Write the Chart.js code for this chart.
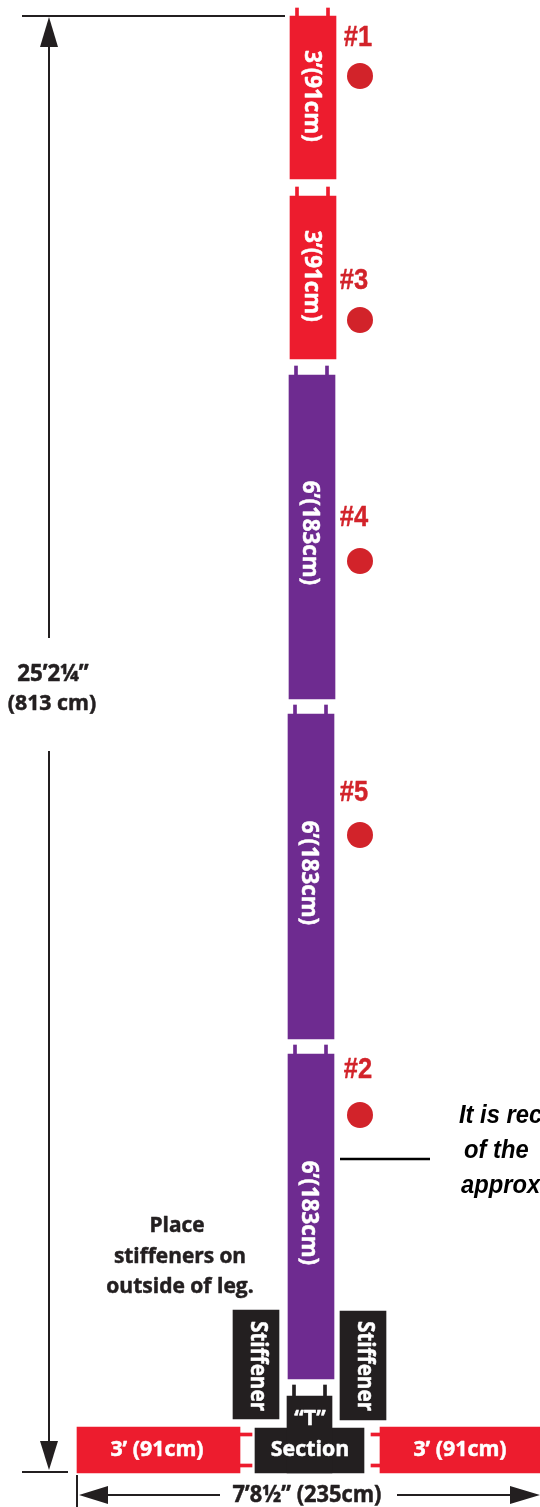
<!DOCTYPE html>
<html><head><meta charset="utf-8">
<style>html,body{margin:0;padding:0;background:#fff;overflow:hidden}canvas{display:block}</style>
<script src="https://cdn.jsdelivr.net/npm/chart.js@4"></script>
</head><body><canvas id="c" width="540" height="1507"></canvas>
<script>
// Sections of the leg: centre along x, start and end along y (diagram units)
const redLegCentres=[313,313];
const redLegTops=[16,196];
const redLegBottoms=[179,359];
const purpleLegCentres=[312,311,311];
const purpleLegTops=[375,714,1054];
const purpleLegBottoms=[699,1039,1379];
const stiffenerCentres=[256,363];
const stiffenerTops=[1310,1311];
const stiffenerBottoms=[1419,1420];
const markerNames=['#1','#3','#4','#5','#2'];
const markerX=[360,360,360,360,360];
const markerY=[76,320,561,835,1115];
const markerLabelX=[358,354,354,354,358];
const markerLabelY=[38,281,518,793,1070];
const redTabX=[297,328,297,328];
const redTabTop=[8,8,187,187];
const purpleTabX=[296,327,295,326,295,326];
const purpleTabTop=[366,366,705,705,1045,1045];

const RED='#ed1c2e',PURPLE='#6e2b90',BLACK='#231f20',DOT='#d2232a';
const zip=(xs,a,b)=>xs.map((x,i)=>({x,y:[a[i],b[i]]}));
const bar=(data,color,w)=>({type:'bar',data,backgroundColor:color,barThickness:w,grouped:false,borderWidth:0,order:2});
const line=(data,w=2,color=BLACK)=>({type:'scatter',data,showLine:true,borderColor:color,borderWidth:w,pointRadius:0,fill:false,order:1});
const tri=(data)=>({type:'scatter',data,showLine:true,borderColor:BLACK,borderWidth:0,backgroundColor:BLACK,pointRadius:0,fill:'shape',order:1});
const P=(x,y)=>({x,y});

const texts=[
 {t:'3’(91cm)',x:312,y:96,r:90,s:23,c:'#fff'},
 {t:'3’(91cm)',x:312,y:276,r:90,s:23,c:'#fff'},
 {t:'6’(183cm)',x:310,y:533,r:90,s:23,c:'#fff'},
 {t:'6’(183cm)',x:309,y:873,r:90,s:23,c:'#fff'},
 {t:'6’(183cm)',x:309,y:1213,r:90,s:23,c:'#fff'},
 {t:'Stiffener',x:258,y:1366,r:90,s:23,c:'#fff',sx:0.9},
 {t:'Stiffener',x:365,y:1366,r:90,s:23,c:'#fff',sx:0.9},
 {t:'“T”',x:310,y:1419,s:22,c:'#fff'},
 {t:'Section',x:310,y:1450,s:22,c:'#fff'},
 {t:'3’ (91cm)',x:157,y:1450,s:22,c:'#fff'},
 {t:'3’ (91cm)',x:460,y:1450,s:22,c:'#fff'},
 {t:'7’8½” (235cm)',x:307,y:1496,s:22.5,c:BLACK},
 {t:'25’2¼”',x:53,y:674,s:23,c:BLACK},
 {t:'(813 cm)',x:52,y:704,s:22,c:BLACK},
 {t:'Place',x:177,y:1226,s:21.5,c:BLACK},
 {t:'stiffeners on',x:180,y:1257,s:21.5,c:BLACK},
 {t:'outside of leg.',x:180,y:1287,s:21.7,c:BLACK},
];
const notes=[
 {t:'It is rec',x:459,y:1116},
 {t:'of the',x:464,y:1151},
 {t:'approx',x:461,y:1186},
];

const labelPlugin={id:'labels',afterDatasetsDraw(ch){
 const {ctx,scales:{x,y}}=ch;
 const draw=(t,px,py,font,color,align,rot,sx,sw)=>{
  ctx.save();ctx.translate(x.getPixelForValue(px),y.getPixelForValue(py));
  if(rot)ctx.rotate(rot*Math.PI/180);
  if(sx)ctx.scale(sx,1);
  ctx.font=font;ctx.fillStyle=color;ctx.textAlign=align;ctx.textBaseline='middle';
  ctx.fillText(t,0,0);
  if(sw){ctx.strokeStyle=color;ctx.lineWidth=sw;ctx.lineJoin='round';ctx.strokeText(t,0,0);}
  ctx.restore();
 };
 texts.forEach(o=>draw(o.t,o.x,o.y,`bold ${o.s}px "Open Sans"`,o.c,'center',o.r||0,o.sx||0.97,0.5));
 markerNames.forEach((m,i)=>draw(m,markerLabelX[i],markerLabelY[i],'bold 29px "Liberation Sans"',DOT,'center',0,0.88,0.4));
 notes.forEach(o=>draw(o.t,o.x,o.y,'italic bold 25px "Liberation Sans"','#000','left',0,0.95,0));
}};

new Chart(document.getElementById('c'),{
 data:{datasets:[
  bar(zip(redLegCentres,redLegTops,redLegBottoms),RED,46),
  bar(zip(purpleLegCentres,purpleLegTops,purpleLegBottoms),PURPLE,46),
  bar(zip(stiffenerCentres,stiffenerTops,stiffenerBottoms),BLACK,46),
  bar([{x:309.5,y:[1396,1473]}],BLACK,45),
  bar([{x:309.5,y:[1428,1473]}],BLACK,109),
  bar([{x:158.5,y:[1427,1473]}],RED,163),
  bar([{x:460,y:[1427,1473]}],RED,160),
  bar(redTabX.map((x,i)=>({x,y:[redTabTop[i],redTabTop[i]+9]})),RED,3),
  bar(purpleTabX.map((x,i)=>({x,y:[purpleTabTop[i],purpleTabTop[i]+9]})),PURPLE,3),
  bar([{x:294,y:[1385,1397]},{x:325,y:[1385,1397]}],BLACK,3),
  bar([{x:246,y:[1433,1436]},{x:246,y:[1464,1467]}],RED,12),
  bar([{x:375.5,y:[1433,1436]},{x:375.5,y:[1464,1467]}],RED,9),
  {type:'scatter',data:markerX.map((x,i)=>({x,y:markerY[i]})),pointRadius:13,pointHoverRadius:13,pointBackgroundColor:DOT,pointBorderWidth:0,showLine:false,order:1},
  line([P(22,16),P(285,16)]),
  line([P(49,45),P(49,638)]),
  line([P(49,751),P(49,1443)]),
  line([P(22,1472),P(68,1472)]),
  line([P(77,1475),P(77,1507)]),
  line([P(106,1495),P(220,1495)]),
  line([P(397,1495),P(512,1495)]),
  line([P(340,1159),P(430,1159)],2.5,'#000'),
  tri([P(49,17),P(40,47),P(58,47),P(49,17)]),
  tri([P(49,1470),P(40,1441),P(58,1441),P(49,1470)]),
  tri([P(79,1495),P(108,1486),P(108,1504),P(79,1495)]),
  tri([P(540,1495),P(510,1486),P(510,1504),P(540,1495)]),
 ]},
 options:{
  responsive:false,animation:false,devicePixelRatio:1,
  layout:{padding:0,autoPadding:false},
  events:[],
  plugins:{legend:{display:false},tooltip:{enabled:false}},
  scales:{
   x:{type:'linear',min:0,max:540,display:false,offset:false,grid:{offset:false}},
   y:{type:'linear',min:0,max:1507,reverse:true,display:false}
  }
 },
 plugins:[labelPlugin]
});
</script></body></html>
